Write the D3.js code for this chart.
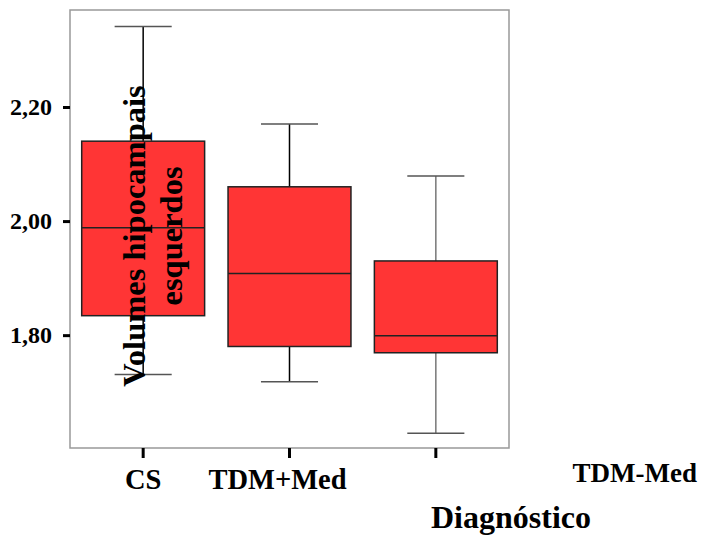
<!DOCTYPE html>
<html>
<head>
<meta charset="utf-8">
<script src="https://cdn.jsdelivr.net/npm/d3@7"></script>
<style>
  body { margin: 0; background: #fff; }
  text { font-family: "Liberation Serif", "Times New Roman", serif; font-weight: bold; fill: #000; }
</style>
</head>
<body>
<div id="chart"></div>
<script>
// Data (box plot summary per group)
const categories = ["CS", "TDM+Med", "TDM-Med"];
const whiskerLow  = [1.732, 1.719, 1.629];
const q1          = [1.835, 1.781, 1.770];
const median      = [1.989, 1.909, 1.800];
const q3          = [2.141, 2.061, 1.931];
const whiskerHigh = [2.342, 2.171, 2.080];
const yTicks = [1.80, 2.00, 2.20];

const data = categories.map((c, i) => ({
  cat: c, lo: whiskerLow[i], q1: q1[i], med: median[i], q3: q3[i], hi: whiskerHigh[i]
}));

const W = 712, H = 538;
const frame = { left: 70, right: 509, top: 10, bottom: 448 };

const svg = d3.select("#chart")
  .append("svg")
    .attr("width", W)
    .attr("height", H);

// Scales
const x = d3.scaleBand()
  .domain(categories)
  .range([frame.left, frame.right])
  .padding(0);

const y = d3.scaleLinear()
  .domain([1.603, 2.371])
  .range([frame.bottom, frame.top]);

const boxW = x.bandwidth() * 0.84;
const capW = x.bandwidth() * 0.39;
const fmt = v => d3.format(".2f")(v).replace(".", ",");

// Frame
svg.append("rect")
  .attr("x", frame.left)
  .attr("y", frame.top)
  .attr("width", frame.right - frame.left)
  .attr("height", frame.bottom - frame.top)
  .attr("fill", "none")
  .attr("stroke", "#999")
  .attr("stroke-width", 1.5);

// Y axis ticks + labels
const yAxis = svg.append("g");
yAxis.selectAll("line")
  .data(yTicks)
  .join("line")
  .attr("x1", frame.left - 7)
  .attr("x2", frame.left)
  .attr("y1", d => y(d))
  .attr("y2", d => y(d))
  .attr("stroke", "#000")
  .attr("stroke-width", 3);
yAxis.selectAll("text")
  .data(yTicks)
  .join("text")
  .attr("x", 52)
  .attr("y", d => y(d) + 7)
  .attr("text-anchor", "end")
  .style("font-size", "24px")
  .text(fmt);

// X axis ticks
svg.append("g").selectAll("line")
  .data(categories)
  .join("line")
  .attr("x1", d => x(d) + x.bandwidth() / 2)
  .attr("x2", d => x(d) + x.bandwidth() / 2)
  .attr("y1", frame.bottom)
  .attr("y2", frame.bottom + 10)
  .attr("stroke", "#000")
  .attr("stroke-width", 3);

// Boxes
const g = svg.append("g").selectAll("g")
  .data(data)
  .join("g")
  .attr("transform", d => `translate(${x(d.cat) + x.bandwidth() / 2},0)`);

const wColor = (d, i) => i === 2 ? "#777" : "#000";

g.append("line")
  .attr("x1", 0).attr("x2", 0)
  .attr("y1", d => y(d.hi))
  .attr("y2", d => y(d.lo))
  .attr("stroke", wColor)
  .attr("stroke-width", 1.5);

g.selectAll(".cap")
  .data(d => [d.lo, d.hi])
  .join("line")
  .attr("class", "cap")
  .attr("x1", -capW / 2).attr("x2", capW / 2)
  .attr("y1", v => y(v)).attr("y2", v => y(v))
  .attr("stroke", "#555")
  .attr("stroke-width", 1.5);

g.append("rect")
  .attr("x", -boxW / 2)
  .attr("width", boxW)
  .attr("y", d => y(d.q3))
  .attr("height", d => y(d.q1) - y(d.q3))
  .attr("fill", "#ff3535")
  .attr("stroke", "#222")
  .attr("stroke-width", 1.5);

g.append("line")
  .attr("x1", -boxW / 2).attr("x2", boxW / 2)
  .attr("y1", d => y(d.med)).attr("y2", d => y(d.med))
  .attr("stroke", "#222")
  .attr("stroke-width", 1.5);

// X category labels (offsets as in the original layout)
const labelShift = [0, -12, 199];
const labelBase = [489, 489, 482];
svg.append("g").selectAll("text")
  .data(categories)
  .join("text")
  .attr("x", (d, i) => x(d) + x.bandwidth() / 2 + labelShift[i])
  .attr("y", (d, i) => labelBase[i])
  .attr("text-anchor", "middle")
  .style("font-size", (d, i) => i === 2 ? "27px" : "28.5px")
  .text(d => d);

// Axis titles
svg.append("text")
  .attr("x", 511)
  .attr("y", 528)
  .attr("text-anchor", "middle")
  .style("font-size", "32px")
  .text("Diagnóstico");

const yTitle = svg.append("text")
  .attr("transform", "translate(145,236) rotate(-90)")
  .attr("text-anchor", "middle")
  .style("font-size", "32.5px");
yTitle.append("tspan").attr("x", 0).attr("y", 0).text("Volumes hipocampais");
yTitle.append("tspan").attr("x", 0).attr("y", 37).text("esquerdos");
</script>
</body>
</html>
